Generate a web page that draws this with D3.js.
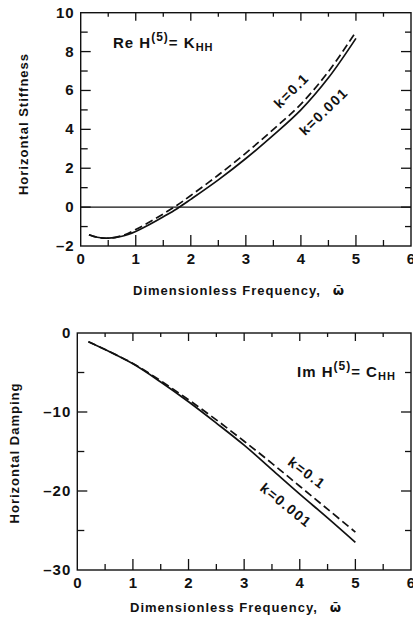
<!DOCTYPE html>
<html>
<head>
<meta charset="utf-8">
<script src="https://cdn.jsdelivr.net/npm/d3@7"></script>
<style>
  body { margin: 0; background: #fff; }
  svg { display: block; }
  text { font-family: "Liberation Sans", Arial, sans-serif; font-weight: bold; fill: #111; }
</style>
</head>
<body>
<div id="main"></div>
<script>
// frequency samples and curves
const freqStiff = [0.15, 0.3, 0.5, 0.75, 1, 1.25, 1.5, 1.75, 2, 2.5, 3, 3.5, 4, 4.5, 5];
const stiffK0001 = [-1.42, -1.55, -1.6, -1.5, -1.25, -0.9, -0.5, -0.08, 0.4, 1.4, 2.5, 3.7, 5.0, 6.65, 8.68];
const stiffK01 = [-1.42, -1.55, -1.6, -1.47, -1.15, -0.77, -0.35, 0.1, 0.6, 1.65, 2.78, 4.0, 5.3, 6.97, 9.02];

const freqDamp = [0.2, 0.5, 1, 1.5, 2, 2.5, 3, 3.5, 4, 4.5, 5];
const dampK0001 = [-1.1, -2.1, -3.9, -6.2, -8.7, -11.4, -14.2, -17.3, -20.4, -23.4, -26.5];
const dampK01 = [-1.1, -2.1, -3.85, -6.05, -8.45, -11.0, -13.7, -16.5, -19.4, -22.3, -25.2];

const xTicks = [0, 1, 2, 3, 4, 5, 6];
const stiffTicks = [-2, 0, 2, 4, 6, 8, 10];
const dampTicks = [-30, -20, -10, 0];

const svg = d3.select('#main').append('svg')
  .attr('width', 413)
  .attr('height', 620);

class PanelClass {
  constructor(config) {
    this.config = config;
    this.g = svg.append('g');
    this.xScale = d3.scaleLinear().domain([0, 6]).range([config.left, config.right]);
    this.yScale = d3.scaleLinear().domain(config.yDomain).range([config.bottom, config.top]);
  }

  drawFrame() {
    const c = this.config;
    this.g.append('rect')
      .attr('x', c.left).attr('y', c.top)
      .attr('width', c.right - c.left).attr('height', c.bottom - c.top)
      .attr('fill', 'none').attr('stroke', '#111').attr('stroke-width', 1.4);

    // inward ticks, x: majors at integers, minors at halves
    const xMinor = d3.range(0.5, 6, 0.5);
    const xs = this.xScale;
    this.g.selectAll('.xt').data(xMinor).join('line')
      .attr('x1', d => xs(d)).attr('x2', d => xs(d))
      .attr('y1', c.bottom).attr('y2', d => c.bottom - (d % 1 === 0 ? 11 : 6))
      .attr('stroke', '#111').attr('stroke-width', 1.3);
    this.g.selectAll('.xtt').data(xMinor).join('line')
      .attr('x1', d => xs(d)).attr('x2', d => xs(d))
      .attr('y1', c.top).attr('y2', d => c.top + (d % 1 === 0 ? 8 : 4))
      .attr('stroke', '#111').attr('stroke-width', 1.3);

    const ys = this.yScale;
    const yMinor = d3.range(c.yDomain[0] + c.yStep, c.yDomain[1], c.yStep);
    this.g.selectAll('.yt').data(yMinor).join('line')
      .attr('x1', c.left).attr('x2', d => c.left + (c.yMajor(d) ? 10 : 7))
      .attr('y1', d => ys(d)).attr('y2', d => ys(d))
      .attr('stroke', '#111').attr('stroke-width', 1.3);
    this.g.selectAll('.ytr').data(yMinor).join('line')
      .attr('x1', c.right).attr('x2', d => c.right - (c.yMajor(d) ? 10 : 6))
      .attr('y1', d => ys(d)).attr('y2', d => ys(d))
      .attr('stroke', '#111').attr('stroke-width', 1.3);

    // tick labels
    this.g.selectAll('.xl').data(xTicks).join('text')
      .attr('x', d => xs(d)).attr('y', c.bottom + 18)
      .attr('text-anchor', 'middle').attr('font-size', 15)
      .text(d => d);
    this.g.selectAll('.yl').data(c.yTicks).join('text')
      .attr('x', c.left - 6).attr('y', d => ys(d) + 5)
      .attr('text-anchor', 'end').attr('font-size', 15).attr('letter-spacing', 1)
      .text(d => d < 0 ? '\u2013' + Math.abs(d) : d);

    // axis titles
    const xt = this.g.append('text')
      .attr('x', c.xTitleX).attr('y', c.xTitleY)
      .attr('font-size', 13).attr('letter-spacing', 1);
    xt.append('tspan').text('Dimensionless Frequency,');
    xt.append('tspan').attr('dx', 12).attr('font-family', 'DejaVu Sans').text('\u03C9\u0304');

    this.g.append('text')
      .attr('transform', `translate(${c.yTitleX},${c.yTitleY}) rotate(-90)`)
      .attr('text-anchor', 'middle').attr('font-size', 13).attr('letter-spacing', 1)
      .text(c.yTitle);
  }

  drawCurves(freq, solid, dashed) {
    const line = d3.line()
      .x(d => this.xScale(d[0]))
      .y(d => this.yScale(d[1]))
      .curve(d3.curveCatmullRom);
    this.g.append('path')
      .attr('d', line(freq.map((f, i) => [f, solid[i]])))
      .attr('fill', 'none').attr('stroke', '#111').attr('stroke-width', 1.7);
    this.g.append('path')
      .attr('d', line(freq.map((f, i) => [f, dashed[i]])))
      .attr('fill', 'none').attr('stroke', '#111').attr('stroke-width', 1.7)
      .attr('stroke-dasharray', '8,4');
  }

  drawLabel(x, y, main, sup, letter, sub) {
    const t = this.g.append('text').attr('x', x).attr('y', y)
      .attr('font-size', 15).attr('letter-spacing', 1);
    t.append('tspan').text(main);
    t.append('tspan').attr('dy', -7).attr('font-size', 12).text(sup);
    t.append('tspan').attr('dy', 7).text('= ' + letter);
    t.append('tspan').attr('dy', 3).attr('font-size', 11).text(sub);
  }

  drawK(x, y, angle, txt) {
    this.g.append('text')
      .attr('transform', `translate(${x},${y}) rotate(${angle})`)
      .attr('text-anchor', 'middle').attr('font-size', 14).attr('letter-spacing', 1.5)
      .text(txt);
  }
}

// upper panel: horizontal stiffness
const stiffPanel = new PanelClass({
  left: 80.7, right: 411, top: 12.7, bottom: 246,
  yDomain: [-2, 10], yStep: 1, yMajor: d => d % 2 === 0, yTicks: stiffTicks,
  yTitle: 'Horizontal Stiffness', yTitleX: 28, yTitleY: 124,
  xTitleX: 133, xTitleY: 295
});
stiffPanel.drawFrame();
stiffPanel.g.append('line')
  .attr('x1', stiffPanel.xScale(0)).attr('x2', stiffPanel.xScale(6))
  .attr('y1', stiffPanel.yScale(0)).attr('y2', stiffPanel.yScale(0))
  .attr('stroke', '#111').attr('stroke-width', 1.1);
stiffPanel.drawCurves(freqStiff, stiffK0001, stiffK01);
stiffPanel.drawLabel(113, 48, 'Re H', '(5)', 'K', 'HH');
stiffPanel.drawK(295, 94, -45, 'k=0.1');
stiffPanel.drawK(327, 115, -44, 'k=0.001');

// lower panel: horizontal damping
const dampPanel = new PanelClass({
  left: 77.3, right: 411, top: 333, bottom: 570,
  yDomain: [-30, 0], yStep: 5, yMajor: d => d % 10 === 0, yTicks: dampTicks,
  yTitle: 'Horizontal Damping', yTitleX: 19, yTitleY: 453,
  xTitleX: 130, xTitleY: 612
});
dampPanel.drawFrame();
dampPanel.drawCurves(freqDamp, dampK0001, dampK01);
dampPanel.drawLabel(297, 377, 'Im H', '(5)', 'C', 'HH');
dampPanel.drawK(304, 477, 37, 'k=0.1');
dampPanel.drawK(283, 509, 39, 'k=0.001');
</script>
</body>
</html>
